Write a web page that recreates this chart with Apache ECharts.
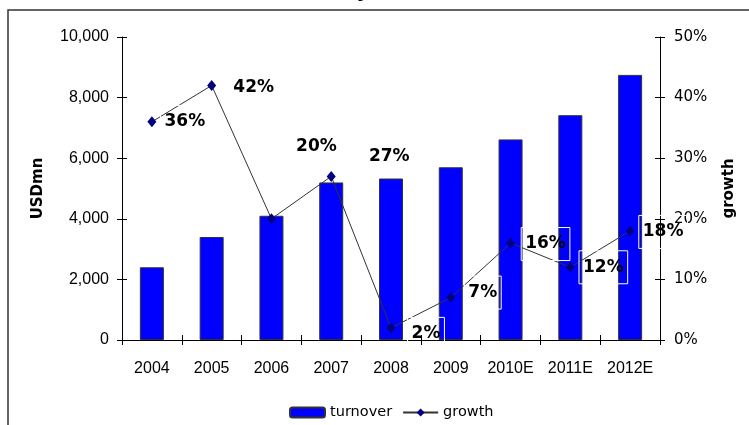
<!DOCTYPE html>
<html>
<head>
<meta charset="utf-8">
<script src="https://cdn.jsdelivr.net/npm/echarts@6/dist/echarts.min.js"></script>
<style>
  html, body { margin: 0; padding: 0; background: #fff; }
  #chart { width: 749px; height: 425px; }
</style>
</head>
<body>
<div id="chart"></div>
<script>
// Industry turnover (USD mn) and year-on-year growth (%)
const years = ['2004', '2005', '2006', '2007', '2008', '2009', '2010E', '2011E', '2012E'];
const turnover = [2400, 3400, 4100, 5200, 5330, 5700, 6620, 7420, 8750];
const growth = [36, 42, 20, 27, 2, 7, 16, 12, 18];
const turnoverTicks = [0, 2000, 4000, 6000, 8000, 10000];
const growthTicks = [0, 10, 20, 30, 40, 50];

// Per-point nudges for the growth labels (pixels from the marker centre)
const growthLabelOffsets = [[33, 0], [42, 2], [45, -72], [58, -20], [35, 6], [32, -5], [35, 1], [33, 0], [33, 1]];

const axisColor = '#000';
const tickLen = 5;

function valueAxis(ticks, pos, extra) {
  return Object.assign({
    type: 'value',
    position: pos,
    min: ticks[0],
    max: ticks[ticks.length - 1],
    interval: ticks[1] - ticks[0],
    splitLine: { show: false },
    axisLine: { show: true, lineStyle: { color: axisColor, width: 1 } },
    axisTick: { show: true, length: tickLen, lineStyle: { color: axisColor } }
  }, extra);
}

const chart = echarts.init(document.getElementById('chart'), null, { renderer: 'canvas' });

chart.setOption({
  animation: false,
  backgroundColor: '#fff',
  title: {
    text: 'Turnover of the industry (2004-2012E)',
    right: 221,
    top: -18,
    padding: 0,
    textStyle: { fontFamily: 'DejaVu Sans', fontWeight: 'bold', fontSize: 20, color: '#000' }
  },
  graphic: [{
    type: 'rect',
    silent: true,
    z: -10,
    shape: { x: 8, y: 10, width: 800, height: 500 },
    style: { fill: 'none', stroke: '#333', lineWidth: 1.5 }
  }],
  grid: { left: 122, right: 89, top: 37, bottom: 85 },
  legend: {
    left: 284,
    top: 400,
    itemWidth: 35,
    itemHeight: 10,
    itemGap: 10,
    data: ['turnover', 'growth'],
    textStyle: { fontFamily: 'DejaVu Sans', fontSize: 14.5, color: '#000' }
  },
  xAxis: [{
    type: 'category',
    data: years,
    position: 'bottom',
    axisLine: { show: true, lineStyle: { color: axisColor, width: 1 } },
    axisTick: { show: true, length: tickLen, lineStyle: { color: axisColor } },
    axisLabel: { interval: 0, margin: 21, fontFamily: 'Liberation Sans', fontSize: 16, color: '#000' }
  }, {
    // inner half of the crossing tick marks
    type: 'category',
    data: years,
    position: 'bottom',
    axisLine: { show: false },
    axisTick: { show: true, inside: true, length: tickLen, lineStyle: { color: axisColor } },
    axisLabel: { show: false }
  }],
  yAxis: [
    valueAxis(turnoverTicks, 'left', {
      name: 'USDmn',
      nameLocation: 'middle',
      nameRotate: 90,
      nameGap: 76,
      nameTextStyle: { fontFamily: 'DejaVu Sans', fontWeight: 'bold', fontSize: 15, color: '#000' },
      axisLabel: {
        margin: 13, fontFamily: 'Liberation Sans', fontSize: 16, color: '#000',
        formatter: v => v.toLocaleString('en-US')
      }
    }),
    valueAxis(growthTicks, 'right', {
      name: 'growth',
      nameLocation: 'middle',
      nameRotate: 90,
      nameGap: 62,
      nameTextStyle: { fontFamily: 'DejaVu Sans', fontWeight: 'bold', fontSize: 15, color: '#000' },
      axisLabel: { margin: 14, fontFamily: 'DejaVu Sans', fontSize: 15, color: '#000', formatter: '{value}%' }
    }),
    valueAxis(turnoverTicks, 'left', {
      axisLine: { show: false },
      axisTick: { show: true, inside: true, length: tickLen, lineStyle: { color: axisColor } },
      axisLabel: { show: false }
    }),
    valueAxis(growthTicks, 'right', {
      axisLine: { show: false },
      axisTick: { show: true, inside: true, length: tickLen, lineStyle: { color: axisColor } },
      axisLabel: { show: false }
    })
  ],
  series: [{
    name: 'turnover',
    type: 'bar',
    data: turnover,
    barWidth: 24,
    itemStyle: { color: '#0000FF', borderColor: '#333', borderWidth: 1 }
  }, {
    name: 'growth',
    type: 'line',
    yAxisIndex: 1,
    data: growth.map((v, i) => ({ value: v, label: { offset: growthLabelOffsets[i] } })),
    symbol: 'diamond',
    symbolSize: [9, 11],
    lineStyle: { color: '#333', width: 1 },
    itemStyle: { color: '#000080' },
    label: {
      show: true,
      position: 'inside',
      formatter: '{c}%',
      fontFamily: 'DejaVu Sans',
      fontWeight: 'bold',
      fontSize: 17,
      color: '#000',
      borderColor: '#fff',
      borderWidth: 1,
      padding: [8, 4]
    },
    z: 5
  }]
});
</script>
</body>
</html>
